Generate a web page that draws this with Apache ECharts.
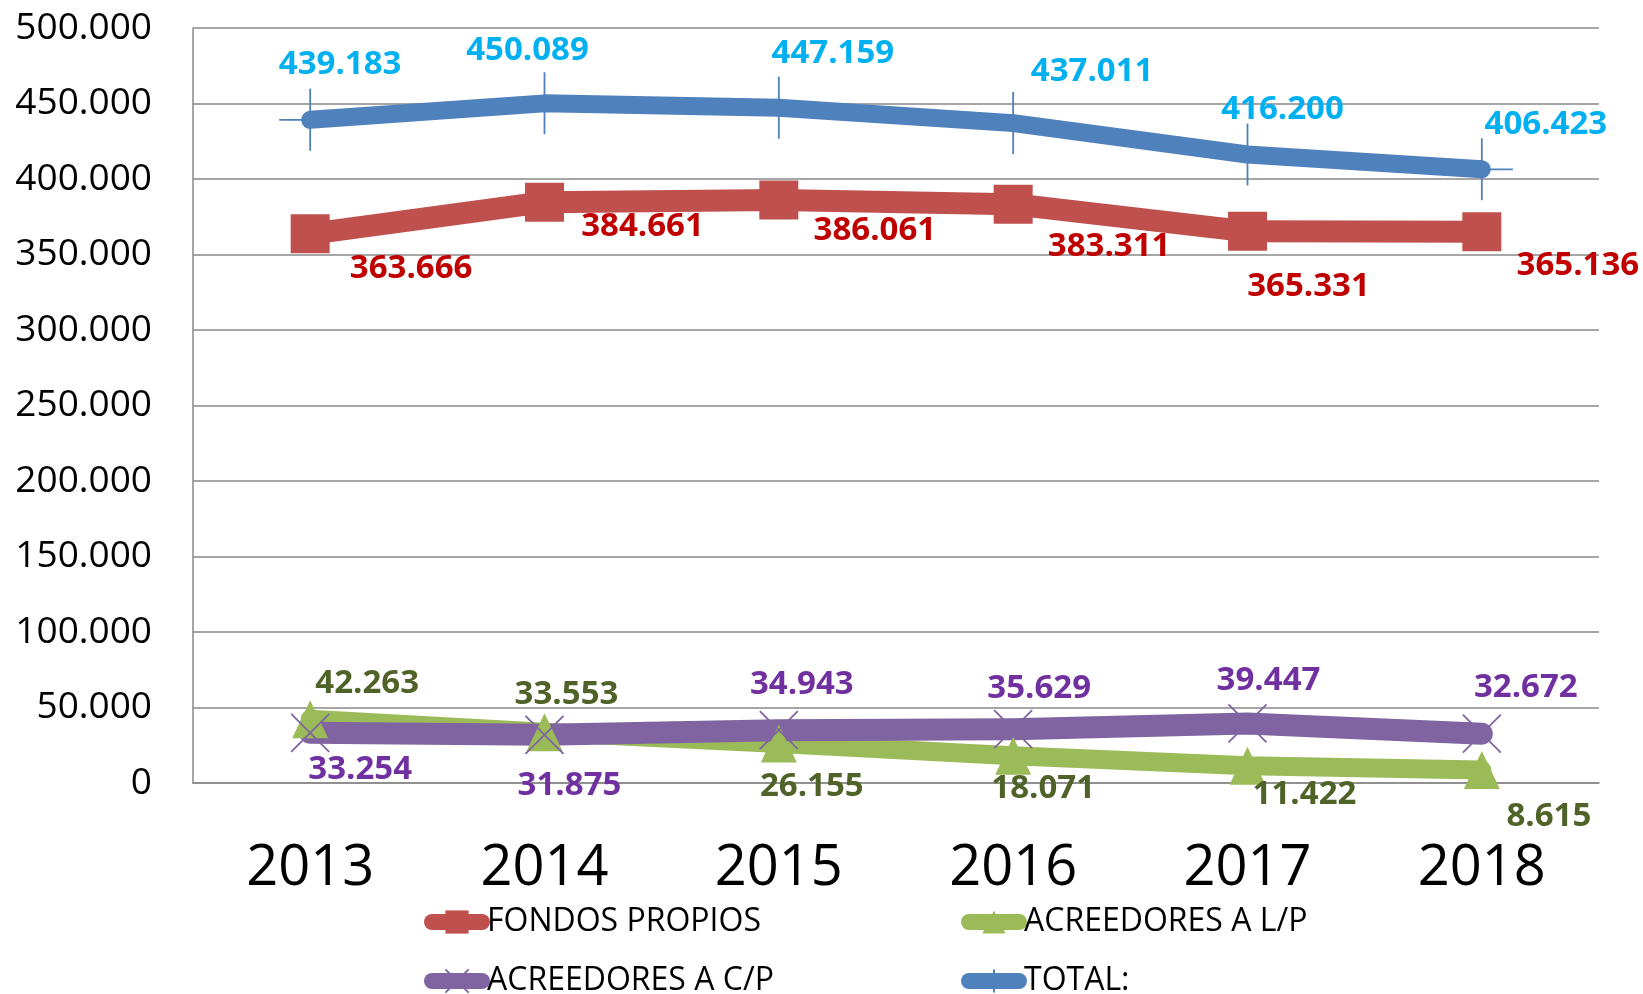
<!DOCTYPE html>
<html>
<head>
<meta charset="utf-8">
<script src="https://cdn.jsdelivr.net/npm/echarts@6/dist/echarts.min.js"></script>
<style>
html,body{margin:0;padding:0;background:#fff;}
#chart{width:1643px;height:994px;}
</style>
</head>
<body>
<div id="chart"></div>
<script>
const years = ['2013', '2014', '2015', '2016', '2017', '2018'];
const fondosPropios = [363666, 384661, 386061, 383311, 365331, 365136];
const acreedoresLP = [42263, 33553, 26155, 18071, 11422, 8615];
const acreedoresCP = [33254, 31875, 34943, 35629, 39447, 32672];
const total = [439183, 450089, 447159, 437011, 416200, 406423];
const seriesNames = ['FONDOS PROPIOS', 'ACREEDORES A L/P', 'ACREEDORES A C/P', 'TOTAL:'];

// label placement (style only)
const offFondos = [[101,35],[98,24],[96,31],[96,42],[61,55],[96,34]];
const offLP = [[57,-36],[22,-38],[33,43],[30,33],[57,29],[67,47]];
const offCP = [[50,37],[25,51],[23,-46],[26,-41],[21,-43],[44,-46]];
const offTotal = [[30,-55],[-17,-53],[54,-54],[79,-52],[35,-45],[64,-45]];

const FONT = '"Open Sans", "Noto Sans", sans-serif';
function fmt(v) {
  return String(Math.round(v)).replace(/\B(?=(\d{3})+(?!\d))/g, '.');
}
function withLabels(values, offs) {
  return values.map((v, i) => ({ value: v, label: { offset: offs[i] } }));
}
function mkSeries(name, values, offs, lineColor, labelColor, width, symbol, symbolSize, itemStyle) {
  return {
    name: name,
    type: 'line',
    data: withLabels(values, offs),
    symbol: symbol,
    symbolSize: symbolSize,
    showAllSymbol: true,
    lineStyle: { color: lineColor, width: width, cap: 'round', join: 'round' },
    itemStyle: itemStyle,
    label: {
      show: true,
      position: 'inside',
      formatter: p => fmt(p.value),
      color: labelColor,
      fontFamily: FONT,
      fontWeight: 'bold',
      fontSize: 33,
      lineHeight: 33
    },
    emphasis: { disabled: true }
  };
}

const chart = echarts.init(document.getElementById('chart'), null, { renderer: 'canvas' });

function legendAt(name, left, top) {
  return {
    data: [name],
    left: left,
    top: top,
    itemWidth: 50,
    itemHeight: 29,
    itemGap: 0,
    padding: 0,
    selectedMode: false,
    lineStyle: { width: 16 },
    textStyle: { fontFamily: FONT, fontSize: 32, lineHeight: 29, color: '#000' }
  };
}

const option = {
  animation: false,
  backgroundColor: '#ffffff',
  grid: { left: 193, right: 44, top: 28, bottom: 211, containLabel: false },
  legend: [
    legendAt(seriesNames[0], 424, 906),
    legendAt(seriesNames[1], 961, 906),
    legendAt(seriesNames[2], 424, 965),
    legendAt(seriesNames[3], 961, 965)
  ],
  xAxis: {
    type: 'category',
    data: years,
    boundaryGap: true,
    axisLine: { show: true, lineStyle: { color: '#898989', width: 1.5 } },
    axisTick: { show: false },
    axisLabel: { fontFamily: FONT, fontSize: 56, lineHeight: 56, color: '#000', margin: 58 }
  },
  yAxis: {
    type: 'value',
    min: 0,
    max: 500000,
    interval: 50000,
    axisLine: { show: true, lineStyle: { color: '#898989', width: 1.5 } },
    axisTick: { show: false },
    splitLine: { show: true, lineStyle: { color: '#898989', width: 1.5 } },
    axisLabel: { fontFamily: FONT, fontSize: 37, color: '#000', margin: 41, formatter: v => fmt(v) }
  },
  series: [
    mkSeries(seriesNames[0], fondosPropios, offFondos, '#C0504D', '#C00000', 22, 'rect', 39,
      { color: '#C0504D' }),
    mkSeries(seriesNames[1], acreedoresLP, offLP, '#9BBB59', '#4F6228', 19, 'triangle', [36, 38],
      { color: '#9BBB59' }),
    mkSeries(seriesNames[2], acreedoresCP, offCP, '#8064A2', '#7030A0', 22, 'path://M0,0L10,10M10,0L0,10', 38,
      { color: 'rgba(0,0,0,0)', borderColor: '#8064A2', borderWidth: 1.8 }),
    mkSeries(seriesNames[3], total, offTotal, '#4F81BD', '#00B0F0', 18, 'path://M5,0L5,10M0,5L10,5', 62,
      { color: 'rgba(0,0,0,0)', borderColor: '#4F81BD', borderWidth: 1.8 })
  ]
};
chart.setOption(option);
</script>
</body>
</html>
